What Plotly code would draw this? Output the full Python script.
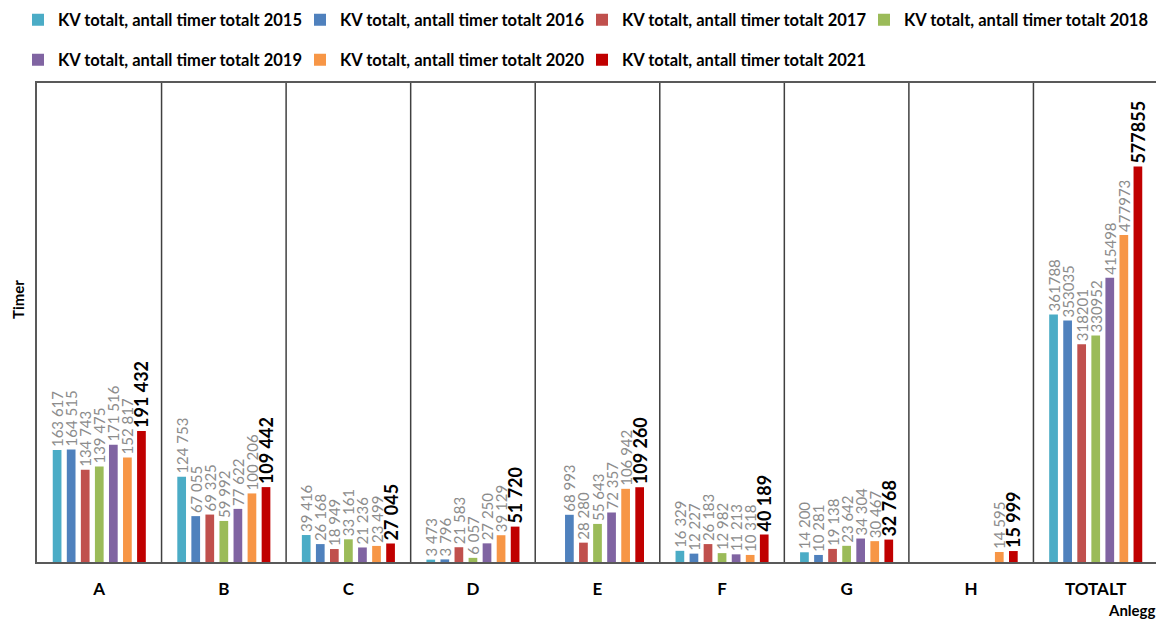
import plotly.graph_objects as go

anlegg = ["A", "B", "C", "D", "E", "F", "G", "H", "TOTALT"]
years = [2015, 2016, 2017, 2018, 2019, 2020, 2021]

timer_2015 = [163617, 124753, 39416, 3473, None, 16329, 14200, None, 361788]
timer_2016 = [164515, 67055, 26168, 3796, 68993, 12227, 10281, None, 353035]
timer_2017 = [134743, 69325, 18949, 21583, 28280, 26183, 19138, None, 318201]
timer_2018 = [139475, 59992, 33161, 6057, 55643, 12982, 23642, None, 330952]
timer_2019 = [171516, 77622, 21236, 27250, 72357, 11213, 34304, None, 415498]
timer_2020 = [152817, 100206, 23499, 39129, 106942, 10318, 30467, 14595, 477973]
timer_2021 = [191432, 109442, 27045, 51720, 109260, 40189, 32768, 15999, 577855]

serier = [timer_2015, timer_2016, timer_2017, timer_2018, timer_2019, timer_2020, timer_2021]
farger = ["#4bacc6", "#4f81bd", "#c0504d", "#9bbb59", "#8064a2", "#f79646", "#c00000"]

font = "Lato, Liberation Sans, sans-serif"

# siden har 8px marg i body, så figuren gjøres tilsvarende mindre
W, H = 1156, 613


def fmt(v, kat):
    if v is None:
        return ""
    if kat == "TOTALT":
        return str(v)
    return "{:,}".format(v).replace(",", " ")


fig = go.Figure()
legends = {}
for i, (aar, verdier, farge) in enumerate(zip(years, serier, farger)):
    siste = aar == 2021
    lname = "legend" if i == 0 else "legend{}".format(i + 1)
    fig.add_trace(go.Bar(
        x=anlegg,
        y=verdier,
        name="KV totalt, antall timer totalt {}".format(aar),
        marker=dict(color=farge, line=dict(width=0)),
        text=[fmt(v, k) for v, k in zip(verdier, anlegg)],
        textposition="outside",
        textangle=-90,
        constraintext="none",
        cliponaxis=False,
        textfont=dict(family=font, size=18 if siste else 15,
                      color="#000000" if siste else "#8c8c8c",
                      weight="bold" if siste else "normal"),
        legend=lname,
        hoverinfo="skip",
    ))
    rad, kol = divmod(i, 4)
    legends[lname] = dict(
        orientation="h", xref="container", yref="container",
        xanchor="left", yanchor="middle",
        x=(10 + 282 * kol) / W, y=1 - (12 + 40 * rad) / H,
        bgcolor="rgba(0,0,0,0)",
        font=dict(family=font, size=16.5, color="#000000", weight="bold"),
        itemclick=False, itemdoubleclick=False,
    )

# skillelinjer mellom anleggene
for i in range(len(anlegg) - 1):
    fig.add_shape(type="line", xref="x", yref="paper", x0=i + 0.5, x1=i + 0.5,
                  y0=0, y1=1, line=dict(color="#404040", width=1.5))

fig.update_layout(
    width=W, height=H,
    margin=dict(l=29, r=6, t=75, b=59, autoexpand=False),
    paper_bgcolor="white", plot_bgcolor="white",
    barmode="group", bargap=0.21, bargroupgap=0.38,
    font=dict(family=font, color="#000000"),
    showlegend=True,
    xaxis=dict(showline=True, mirror=True, linecolor="#595959", linewidth=2,
               ticks="", showgrid=False, ticklabelstandoff=11, automargin=False,
               tickfont=dict(family=font, size=17, weight="bold", color="#000000")),
    yaxis=dict(range=[0, 700000], showline=True, mirror=True, linecolor="#595959",
               linewidth=1.5, showgrid=False, showticklabels=False, ticks="",
               zeroline=False, automargin=False),
    annotations=[
        dict(text="Anlegg", xref="paper", yref="paper", x=1.0, y=0,
             xanchor="right", yanchor="top", yshift=-37, showarrow=False,
             font=dict(family=font, size=15, weight="bold", color="#000000")),
        dict(text="Timer", xref="paper", yref="paper", x=0, xshift=-19,
             y=1 - (292 - 75) / 479, xanchor="center", yanchor="middle",
             textangle=-90, showarrow=False,
             font=dict(family=font, size=15, weight="bold", color="#000000")),
    ],
    **legends,
)

fig.write_html("out.html")
